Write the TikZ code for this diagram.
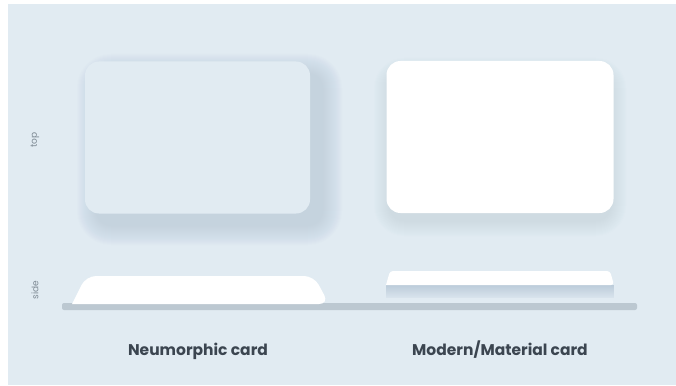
\documentclass[tikz,border=0pt]{standalone}
\usepackage{fontspec}
\setmainfont{Poppins}
\usepackage{tikz}
\usetikzlibrary{positioning, calc}

\definecolor{bgblue}{HTML}{E1EBF2}
\definecolor{glow}{HTML}{F2F6FA}
\definecolor{darkshade}{HTML}{B3C4D4}
\definecolor{bargray}{HTML}{BCC8D1}
\definecolor{labelgray}{HTML}{3B4550}
\definecolor{sidegray}{HTML}{7E8A94}

\begin{document}
\begin{tikzpicture}[x=1pt, y=-1pt,
    card/.style={rectangle, rounded corners=14pt, minimum width=225pt, minimum height=152pt, inner sep=0pt},
    neucard/.style={card, fill=bgblue},
    matcard/.style={card, fill=white},
    caption/.style={font=\fontsize{15.5}{18}\selectfont\bfseries, text=labelgray, anchor=base},
    viewlabel/.style={font=\fontsize{9}{11}\selectfont, text=sidegray, rotate=90},
  ]

    % Background
    \fill[white] (0,0) rectangle (676,385);
    \fill[bgblue] (8,4) rectangle (676,385);
    \useasboundingbox (0,0) rectangle (676,385);

    % Neumorphic shadows
    \foreach \i in {1,...,28} {
      \fill[glow, fill opacity=0.03, rounded corners=14pt+\i pt]
        (85-16-\i, 62-16-\i) rectangle (310-16+\i, 213-16+\i);
    }
    \foreach \i in {1,...,20} {
      \fill[darkshade, fill opacity=0.03, rounded corners=14pt+\i pt]
        (85+12-\i, 62+12-\i) rectangle (310+12+\i, 213+12+\i);
    }

    % Material shadow
    \foreach \i in {1,...,16} {
      \fill[darkshade, fill opacity=0.025, rounded corners=14pt+\i pt]
        (390-\i, 74-\i) rectangle (610+\i, 220+\i);
    }

    % Top views
    \node[neucard] (neutop) at (197.5,137.5) {};
    \node[matcard, minimum width=227pt] (mattop) at (500,137) {};

    % Side views
    \fill[bargray, rounded corners=2pt] (62,303) rectangle (637,310);
    \fill[white, rounded corners=10pt] (72,304) -- (86,276) -- (314,276) -- (329,304) [sharp corners] -- cycle;
    \foreach \i in {0,...,12} {
      \pgfmathtruncatemacro{\mix}{80-\i*5}
      \fill[darkshade!\mix!bgblue] (386,285+\i) rectangle (614,286+\i);
    }
    \fill[white, rounded corners=3pt] (386,285) -- (390,271) -- (610,271) -- (614,285) [sharp corners] -- cycle;

    % Labels
    \node[viewlabel] (toplabel) at (35,140) {top};
    \node[viewlabel] (sidelabel) at (35,290) {side};
    \node[caption] (neucap) at (198,355) {Neumorphic card};
    \node[caption] (matcap) at (500,355) {Modern/Material card};

\end{tikzpicture}
\end{document}
